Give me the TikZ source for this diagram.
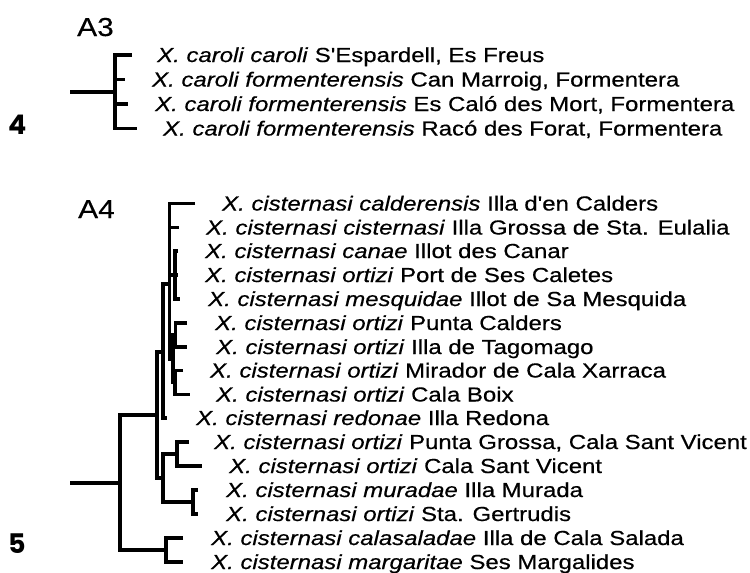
\documentclass[tikz,border=0pt]{standalone}
\usepackage{fontspec}
\newfontfamily\labfont[FakeStretch=1.18,FakeBold=0.5]{Liberation Sans}
\newfontfamily\ttlfont[FakeStretch=1.15,FakeBold=0.4]{Liberation Sans}
\newfontfamily\numfont{Poppins}
\begin{document}
\begin{tikzpicture}[x=1pt,y=-1pt,
  br/.style={line width=3.2pt, line join=miter},
  lab/.style={anchor=base west, inner sep=0pt, font=\labfont\fontsize{20.3}{22}\selectfont},
  ttl/.style={anchor=base west, inner sep=0pt, font=\ttlfont\fontsize{26}{28}\selectfont},
  num/.style={anchor=base west, inner sep=0pt, font=\numfont\bfseries\fontsize{27}{29}\selectfont}]
\useasboundingbox (0,0) rectangle (750,573);
% ---------- A3 ----------
\node[ttl] (A3) at (77,36) {A3};
\node[num] (n4) at (8,134) {4};
\coordinate (a3root) at (70,92);
\coordinate (a3n) at (115,92);
\coordinate (a3t1) at (132,55);
\coordinate (a3t2) at (125,79.5);
\coordinate (a3t3) at (128,104);
\coordinate (a3t4) at (137,128.5);
\draw[br] (a3root) -- (a3n);
\draw[br] (a3t1) -| (a3n) |- (a3t4);
\draw[br] (a3n |- a3t2) -- (a3t2);
\draw[br] (a3n |- a3t3) -- (a3t3);
\node[lab] (a3l1) at (157,62) {\textit{X. caroli caroli} S'Espardell, Es Freus};
\node[lab] (a3l2) at (152,86.5) {\textit{X. caroli formenterensis} Can Marroig, Formentera};
\node[lab] (a3l3) at (155,111) {\textit{X. caroli formenterensis} Es Caló des Mort, Formentera};
\node[lab] (a3l4) at (163,135.5) {\textit{X. caroli formenterensis} Racó des Forat, Formentera};
% ---------- A4 ----------
\node[ttl] (A4) at (78,218) {A4};
\node[num] (n5) at (8,553) {5};
% tips
\coordinate (t1) at (195,203.5);
\coordinate (t2) at (179,227.5);
\coordinate (t3) at (178,251);
\coordinate (t4) at (178,275);
\coordinate (t5) at (180,299);
\coordinate (t6) at (187,323);
\coordinate (t7) at (187,347);
\coordinate (t8) at (183,370.5);
\coordinate (t9) at (190,394.5);
\coordinate (t10) at (167,418);
\coordinate (t11) at (189,442);
\coordinate (t12) at (202,466);
\coordinate (t13) at (198,490);
\coordinate (t14) at (198,514);
\coordinate (t15) at (183,538);
\coordinate (t16) at (183,562);
% internal nodes (junction points)
\coordinate (r0) at (70,483);
\coordinate (R) at (120,483);
\coordinate (P) at (166,550);
\coordinate (Q) at (157,415);
\coordinate (Nred) at (163,352);
\coordinate (N1) at (169.5,284);
\coordinate (C3) at (175,275);
\coordinate (O4) at (173,359);
\coordinate (PC) at (175.5,335);
\coordinate (MC) at (175,382.5);
\coordinate (L) at (163,478);
\coordinate (L1) at (177,454);
\coordinate (L2) at (193,502);
% branches
\draw[br] (r0) -- (R);
\draw[br] (Q) -| (R) |- (P);
\draw[br] (t15) -| (P) |- (t16);
\draw[br] (Nred) -| (Q) |- (L);
\draw[br] (N1) -| (Nred) |- (t10);
\draw[br] (t1) -| (N1) |- (O4);
\draw[br] (N1 |- t2) -- (t2);
\draw[br] (N1 |- C3) -- (C3);
\draw[br] (t3) -| (C3) |- (t5);
\draw[br] (C3) -- (t4);
\draw[br] (PC) -| (O4) |- (MC);
\draw[br] (t6) -| (PC) |- (t7);
\draw[br] (t8) -| (MC) |- (t9);
\draw[br] (L1) -| (L) |- (L2);
\draw[br] (t11) -| (L1) |- (t12);
\draw[br] (t13) -| (L2) |- (t14);
% labels
\node[lab] (l1) at (222,210.5) {\textit{X. cisternasi calderensis} Illa d'en Calders};
\node[lab] (l2) at (206,234.5) {\textit{X. cisternasi cisternasi} Illa Grossa de Sta. Eulalia};
\node[lab] (l3) at (205,258) {\textit{X. cisternasi canae} Illot des Canar};
\node[lab] (l4) at (205,282) {\textit{X. cisternasi ortizi} Port de Ses Caletes};
\node[lab] (l5) at (208,306) {\textit{X. cisternasi mesquidae} Illot de Sa Mesquida};
\node[lab] (l6) at (215,330) {\textit{X. cisternasi ortizi} Punta Calders};
\node[lab] (l7) at (216,354) {\textit{X. cisternasi ortizi} Illa de Tagomago};
\node[lab] (l8) at (210,377.5) {\textit{X. cisternasi ortizi} Mirador de Cala Xarraca};
\node[lab] (l9) at (216,401.5) {\textit{X. cisternasi ortizi} Cala Boix};
\node[lab] (l10) at (196,425) {\textit{X. cisternasi redonae} Illa Redona};
\node[lab] (l11) at (214,449) {\textit{X. cisternasi ortizi} Punta Grossa, Cala Sant Vicent};
\node[lab] (l12) at (229,473) {\textit{X. cisternasi ortizi} Cala Sant Vicent};
\node[lab] (l13) at (226,497) {\textit{X. cisternasi muradae} Illa Murada};
\node[lab] (l14) at (226,521) {\textit{X. cisternasi ortizi} Sta. Gertrudis};
\node[lab] (l15) at (211,545) {\textit{X. cisternasi calasaladae} Illa de Cala Salada};
\node[lab] (l16) at (211,569) {\textit{X. cisternasi margaritae} Ses Margalides};
\end{tikzpicture}
\end{document}
